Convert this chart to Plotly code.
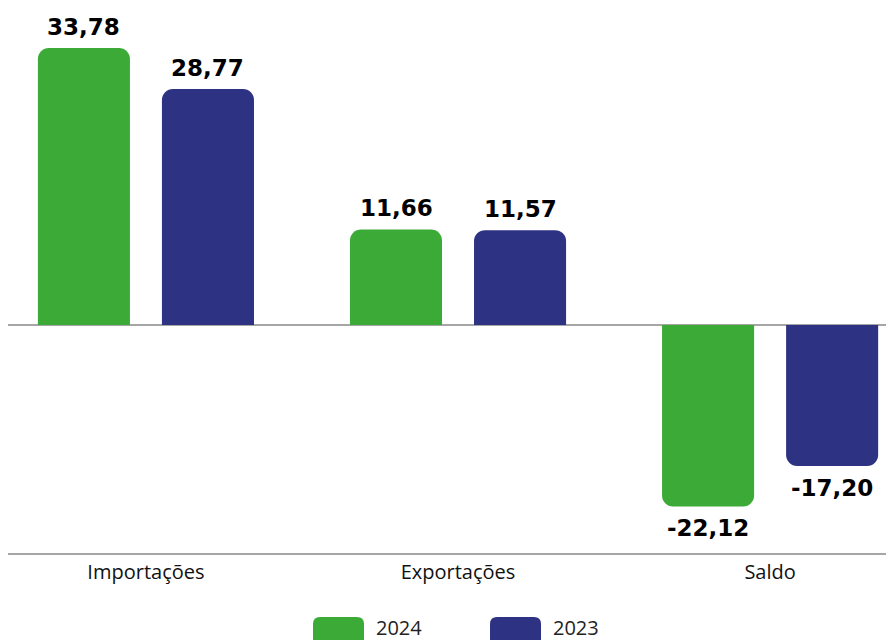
import plotly.graph_objects as go

categories = ["Importações", "Exportações", "Saldo"]
values_2024 = [33.78, 11.66, -22.12]
values_2023 = [28.77, 11.57, -17.20]
series_names = ["2024", "2023"]
colors = ["#3caa36", "#2d3283"]

def fmt(v):
    return f"{v:.2f}".replace(".", ",")

fig = go.Figure()
for i, (name, vals, col) in enumerate(zip(series_names, [values_2024, values_2023], colors)):
    fig.add_trace(go.Bar(
        x=categories, y=vals, name=name, offsetgroup=str(i),
        marker=dict(color=col, cornerradius=11, line=dict(width=0)),
        cliponaxis=False, showlegend=False,
    ))

W, H = 894, 640
ml, mr, mt, mb = 0, 8, 0, 95
pw, ph = W - ml - mr, H - mt - mb

# value labels, positioned from the data via the axes
bargap, bargroupgap = 0.205, 0.258
slot = (1 - bargap) / 2
for i, vals in enumerate([values_2024, values_2023]):
    for j, v in enumerate(vals):
        xc = j - (1 - bargap) / 2 + slot * (i + 0.5)
        fig.add_annotation(x=xc, y=v, xref="x", yref="y", text=fmt(v),
                           showarrow=False, xanchor="center", yanchor="middle",
                           yshift=21 if v >= 0 else -22,
                           font=dict(family="DejaVu Sans", size=23, color="#000", weight="bold"))

def px2paper(x, y):
    return (x - ml) / pw, (H - mb - y) / ph

def rrect(x0, y0, x1, y1, r):
    def P(x, y):
        px, py = px2paper(x, y)
        return f"{px:.5f},{py:.5f}"
    return (f"M{P(x0+r,y0)} L{P(x1-r,y0)} Q{P(x1,y0)} {P(x1,y0+r)} "
            f"L{P(x1,y1-r)} Q{P(x1,y1)} {P(x1-r,y1)} L{P(x0+r,y1)} "
            f"Q{P(x0,y1)} {P(x0,y1-r)} L{P(x0,y0+r)} Q{P(x0,y0)} {P(x0+r,y0)} Z")

legend_pos = [(305, 356), (482, 533)]
for (x0, x1), name, col in zip(legend_pos, series_names, colors):
    fig.add_shape(type="path", xref="paper", yref="paper",
                  path=rrect(x0, 609, x1, 640, 7), fillcolor=col, line=dict(width=0))
    tx, ty = px2paper(x1 + 11, 619.5)
    fig.add_annotation(xref="paper", yref="paper", x=tx, y=ty, text=name,
                       showarrow=False, xanchor="left", yanchor="middle",
                       borderpad=0,
                       font=dict(family="Open Sans", size=20, color="#222"))

fig.update_layout(
    width=W, height=H,
    margin=dict(l=ml, r=mr, t=mt, b=mb),
    paper_bgcolor="white", plot_bgcolor="white",
    barmode="group", bargap=bargap, bargroupgap=bargroupgap,
    xaxis=dict(range=[-0.442, 2.397], showgrid=False, showline=True,
               linecolor="#a6a6a6", linewidth=2, ticks="",
               tickfont=dict(family="Open Sans", size=20, color="#111")),
    yaxis=dict(range=[-27.8, 38.66], showgrid=False, showticklabels=False,
               zeroline=True, zerolinecolor="#a6a6a6", zerolinewidth=2),
)

fig.write_html("out.html")
